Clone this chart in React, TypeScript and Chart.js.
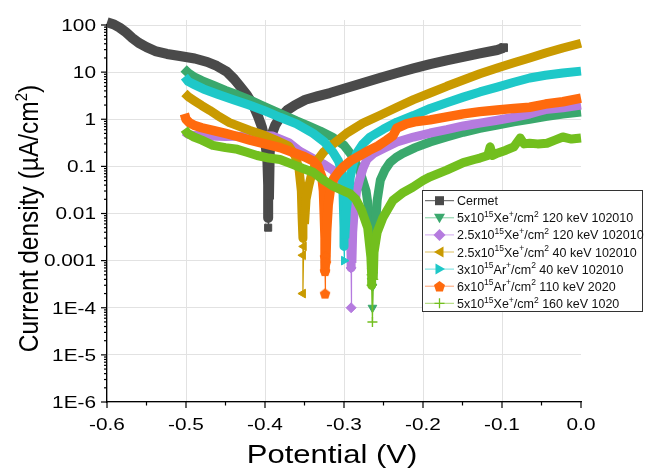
import React, { useEffect, useRef } from "react";
import { Chart, registerables } from "chart.js";

Chart.register(...registerables);

const FONT = '"Liberation Sans", Arial, Helvetica, sans-serif';

// ---- axis ticks ----
const xTickValues = [-0.6, -0.5, -0.4, -0.3, -0.2, -0.1, 0.0];
const xTickLabels = ["-0.6", "-0.5", "-0.4", "-0.3", "-0.2", "-0.1", "0.0"];
const yTickValues = [1e-6, 1e-5, 1e-4, 1e-3, 1e-2, 1e-1, 1, 10, 100];
const yTickLabels = ["1E-6", "1E-5", "1E-4", "0.001", "0.01", "0.1", "1", "10", "100"];

// ---- series names (^{..} = superscript) ----
const seriesNames = [
  "Cermet",
  "5x10^{15}Xe^{+}/cm^{2} 120 keV 102010",
  "2.5x10^{15}Xe^{+}/cm^{2} 120 keV 102010",
  "2.5x10^{15}Xe^{+}/cm^{2} 40 keV 102010",
  "3x10^{15}Ar^{+}/cm^{2} 40 keV 102010",
  "6x10^{15}Ar^{+}/cm^{2} 110 keV 2020",
  "5x10^{15}Xe^{+}/cm^{2} 160 keV 1020",
];

// ---- data: potential (V) and current density (µA/cm²) ----
const cermetV = [-0.600,-0.592,-0.584,-0.576,-0.568,-0.560,-0.550,-0.539,-0.524,-0.508,-0.489,-0.473,-0.461,-0.448,-0.439,-0.432,-0.423,-0.415,-0.409,-0.404,-0.400,-0.397,-0.396,-0.396,-0.396,-0.396,-0.395,-0.394,-0.391,-0.387,-0.381,-0.372,-0.362,-0.349,-0.333,-0.318,-0.297,-0.276,-0.255,-0.233,-0.212,-0.191,-0.170,-0.149,-0.128,-0.106,-0.098];
const cermetI = [115,104,88,70,53,42,34,28,24.3,22,19.5,16.4,13.5,10.1,7.1,5.1,3.3,2.0,1.17,0.69,0.36,0.137,0.04,0.015,0.008,0.005,0.02,0.2,0.5,0.75,1.1,1.55,2.0,2.6,3.1,3.6,4.6,5.9,7.5,9.6,12,14.8,17.8,21,25,29.5,33];

const xe5x120V = [-0.503,-0.497,-0.490,-0.480,-0.465,-0.450,-0.435,-0.420,-0.405,-0.390,-0.375,-0.360,-0.345,-0.330,-0.315,-0.300,-0.290,-0.280,-0.272,-0.268,-0.266,-0.265,-0.265,-0.265,-0.264,-0.264,-0.263,-0.262,-0.260,-0.258,-0.254,-0.248,-0.242,-0.234,-0.225,-0.210,-0.191,-0.170,-0.149,-0.128,-0.106,-0.085,-0.065,-0.045,-0.023,0.000];
const xe5x120I = [12,9.6,8.0,6.6,5.2,4.1,3.3,2.6,2.0,1.55,1.2,0.92,0.72,0.56,0.42,0.28,0.17,0.08,0.03,0.01,0.004,0.0015,0.0006,0.00037,0.00028,0.0001,0.0005,0.0019,0.006,0.019,0.051,0.085,0.12,0.155,0.19,0.25,0.33,0.42,0.53,0.64,0.75,0.88,1.0,1.14,1.29,1.42];

const xe25x120V = [-0.502,-0.497,-0.490,-0.470,-0.450,-0.430,-0.410,-0.390,-0.370,-0.356,-0.340,-0.325,-0.314,-0.305,-0.298,-0.294,-0.292,-0.291,-0.291,-0.291,-0.290,-0.289,-0.287,-0.284,-0.280,-0.276,-0.271,-0.262,-0.250,-0.233,-0.212,-0.191,-0.170,-0.149,-0.128,-0.106,-0.085,-0.065,-0.055,-0.045,-0.023,0.000];
const xe25x120I = [0.55,0.48,0.45,0.44,0.43,0.44,0.46,0.44,0.32,0.21,0.15,0.11,0.083,0.05,0.025,0.012,0.004,0.0012,0.0007,0.0001,0.0009,0.004,0.012,0.031,0.055,0.09,0.14,0.19,0.24,0.33,0.42,0.51,0.6,0.72,0.83,0.95,1.1,1.29,1.45,1.6,1.75,2.0];

const xe25x40V = [-0.502,-0.497,-0.490,-0.480,-0.470,-0.460,-0.445,-0.430,-0.419,-0.400,-0.385,-0.370,-0.362,-0.357,-0.354,-0.353,-0.352,-0.352,-0.352,-0.351,-0.350,-0.348,-0.345,-0.340,-0.333,-0.326,-0.318,-0.297,-0.276,-0.255,-0.233,-0.212,-0.191,-0.170,-0.149,-0.128,-0.106,-0.085,-0.065,-0.045,-0.023,0.000];
const xe25x40I = [3.6,3.0,2.5,1.95,1.55,1.2,0.85,0.68,0.58,0.45,0.35,0.27,0.17,0.09,0.03,0.008,0.003,0.0013,0.0002,0.002,0.006,0.02,0.036,0.08,0.14,0.2,0.26,0.5,0.83,1.2,1.8,2.6,3.6,5.0,6.8,9.2,12.2,15.8,20,25.5,32.5,41];

const ar3x40V = [-0.502,-0.497,-0.490,-0.478,-0.460,-0.440,-0.420,-0.400,-0.381,-0.360,-0.339,-0.325,-0.314,-0.307,-0.302,-0.301,-0.300,-0.300,-0.300,-0.299,-0.297,-0.294,-0.292,-0.288,-0.284,-0.276,-0.267,-0.250,-0.233,-0.212,-0.191,-0.170,-0.149,-0.128,-0.106,-0.085,-0.065,-0.045,-0.023,0.000];
const ar3x40I = [8.0,6.3,5.5,4.4,3.4,2.6,2.0,1.5,1.1,0.8,0.5,0.33,0.2,0.13,0.07,0.02,0.005,0.002,0.001,0.003,0.012,0.03,0.06,0.12,0.19,0.3,0.42,0.62,0.87,1.2,1.7,2.25,2.95,3.8,4.8,6.1,7.5,8.6,9.6,10.5];

const ar6x110V = [-0.502,-0.500,-0.496,-0.490,-0.480,-0.466,-0.450,-0.435,-0.419,-0.400,-0.381,-0.365,-0.350,-0.339,-0.333,-0.328,-0.326,-0.325,-0.324,-0.324,-0.324,-0.324,-0.323,-0.322,-0.320,-0.317,-0.313,-0.307,-0.300,-0.292,-0.280,-0.268,-0.257,-0.246,-0.238,-0.233,-0.221,-0.208,-0.191,-0.170,-0.149,-0.128,-0.106,-0.085,-0.065,-0.045,-0.023,0.000];
const ar6x110I = [1.3,1.0,0.85,0.75,0.66,0.58,0.5,0.43,0.36,0.3,0.25,0.2,0.16,0.13,0.1,0.06,0.03,0.01,0.003,0.0012,0.0006,0.0002,0.0009,0.004,0.015,0.035,0.055,0.075,0.1,0.13,0.17,0.22,0.27,0.36,0.45,0.65,0.8,0.9,0.97,1.12,1.3,1.45,1.57,1.7,1.8,2.1,2.35,2.8];

const xe5x160V = [-0.502,-0.498,-0.490,-0.480,-0.466,-0.450,-0.435,-0.423,-0.410,-0.395,-0.381,-0.365,-0.352,-0.339,-0.325,-0.314,-0.300,-0.292,-0.285,-0.278,-0.270,-0.266,-0.265,-0.265,-0.264,-0.263,-0.262,-0.258,-0.251,-0.238,-0.225,-0.213,-0.200,-0.191,-0.170,-0.149,-0.135,-0.128,-0.118,-0.115,-0.112,-0.106,-0.095,-0.085,-0.077,-0.072,-0.065,-0.055,-0.043,-0.033,-0.023,-0.012,0.000];
const xe5x160I = [0.62,0.5,0.42,0.36,0.28,0.25,0.23,0.2,0.17,0.15,0.14,0.11,0.09,0.075,0.05,0.038,0.03,0.026,0.02,0.012,0.005,0.0012,0.0005,0.0003,0.00005,0.0004,0.0015,0.004,0.008,0.019,0.028,0.036,0.05,0.06,0.083,0.12,0.14,0.15,0.17,0.26,0.17,0.19,0.22,0.26,0.4,0.3,0.31,0.3,0.31,0.36,0.42,0.38,0.4];

const seriesV = [cermetV, xe5x120V, xe25x120V, xe25x40V, ar3x40V, ar6x110V, xe5x160V];
const seriesI = [cermetI, xe5x120I, xe25x120I, xe25x40I, ar3x40I, ar6x110I, xe5x160I];

// ---- styles ----
const COLORS = ["#4a4a4a", "#3aa86d", "#b57bdf", "#c99a00", "#1ec8c8", "#ff6a0d", "#72bf1e"];
const LEGEND_LINE = ["#555555", "#7fcfa0", "#cfa6ee", "#ddc060", "#70dede", "#ffa070", "#a8d870"];
const MARKERS = ["square", "down", "diamond", "left", "right", "pentagon", "plus"];
const BAND_W = [10, 9, 9, 9, 9, 9.5, 9];
const THIN_BELOW = [0.006, 0.0009, 0.0005, 0.0025, 0.0015, 0.0004, 0.0002];
const MARK_BELOW = [0.006, 0.0008, 0.0008, 0.0025, 0.0015, 0.0013, 0.0006];

function parseRich(s: string): { t: string; sup: boolean }[] {
  const out: { t: string; sup: boolean }[] = [];
  const re = /\^\{([^}]*)\}/g;
  let last = 0;
  let m: RegExpExecArray | null;
  while ((m = re.exec(s))) {
    if (m.index > last) out.push({ t: s.slice(last, m.index), sup: false });
    out.push({ t: m[1], sup: true });
    last = m.index + m[0].length;
  }
  if (last < s.length) out.push({ t: s.slice(last), sup: false });
  return out;
}

function drawStretched(ctx: CanvasRenderingContext2D, text: string, x: number, y: number, sx: number, align: CanvasTextAlign) {
  ctx.save();
  ctx.translate(x, y);
  ctx.scale(sx, 1);
  ctx.textAlign = align;
  ctx.textBaseline = "alphabetic";
  ctx.fillText(text, 0, 0);
  ctx.restore();
}

function drawMarker(ctx: CanvasRenderingContext2D, kind: string, x: number, y: number, color: string) {
  ctx.save();
  ctx.fillStyle = color;
  ctx.strokeStyle = color;
  ctx.beginPath();
  if (kind === "square") {
    ctx.rect(x - 4.5, y - 4.5, 9, 9);
    ctx.fill();
  } else if (kind === "down") {
    ctx.moveTo(x - 5.5, y - 4);
    ctx.lineTo(x + 5.5, y - 4);
    ctx.lineTo(x, y + 5.5);
    ctx.closePath();
    ctx.fill();
  } else if (kind === "diamond") {
    ctx.moveTo(x, y - 6);
    ctx.lineTo(x + 6, y);
    ctx.lineTo(x, y + 6);
    ctx.lineTo(x - 6, y);
    ctx.closePath();
    ctx.fill();
  } else if (kind === "left") {
    ctx.moveTo(x - 5.5, y);
    ctx.lineTo(x + 4, y - 5.5);
    ctx.lineTo(x + 4, y + 5.5);
    ctx.closePath();
    ctx.fill();
  } else if (kind === "right") {
    ctx.moveTo(x + 5.5, y);
    ctx.lineTo(x - 4, y - 5.5);
    ctx.lineTo(x - 4, y + 5.5);
    ctx.closePath();
    ctx.fill();
  } else if (kind === "pentagon") {
    for (let k = 0; k < 5; k++) {
      const a = -Math.PI / 2 + (k * 2 * Math.PI) / 5;
      const px = x + 5.8 * Math.cos(a);
      const py = y + 0.5 + 5.8 * Math.sin(a);
      if (k) ctx.lineTo(px, py);
      else ctx.moveTo(px, py);
    }
    ctx.closePath();
    ctx.fill();
  } else if (kind === "plus") {
    ctx.lineWidth = 1.3;
    ctx.moveTo(x - 5, y);
    ctx.lineTo(x + 5, y);
    ctx.moveTo(x, y - 5);
    ctx.lineTo(x, y + 5);
    ctx.stroke();
  }
  ctx.restore();
}

const decorPlugin = {
  id: "decor",
  afterDraw(chart: any) {
    const { ctx, chartArea, scales } = chart;
    const xa = scales.x;
    const ya = scales.y;
    const L = chartArea.left;
    const B = chartArea.bottom;
    const T = chartArea.top;
    ctx.save();

    // vertical grid extension above the top
    ctx.strokeStyle = "#e2e2e2";
    ctx.lineWidth = 1;
    for (let i = 1; i < xTickValues.length - 1; i++) {
      const x = Math.round(xa.getPixelForValue(xTickValues[i])) + 0.5;
      ctx.beginPath();
      ctx.moveTo(x, T - 5);
      ctx.lineTo(x, T);
      ctx.stroke();
    }

    // tick marks
    ctx.strokeStyle = "#000";
    ctx.lineWidth = 1.2;
    const seg = (x1: number, y1: number, x2: number, y2: number) => {
      ctx.beginPath();
      ctx.moveTo(x1, y1);
      ctx.lineTo(x2, y2);
      ctx.stroke();
    };
    for (let e = -6; e <= 2; e++) {
      const y = ya.getPixelForValue(Math.pow(10, e));
      seg(L - 6, y, L, y);
      if (e < 2) {
        for (let m = 2; m <= 9; m++) {
          const yy = ya.getPixelForValue(m * Math.pow(10, e));
          seg(L - 3, yy, L, yy);
        }
      }
    }
    for (let k = 0; k <= 12; k++) {
      const v = -0.6 + 0.05 * k;
      const x = xa.getPixelForValue(v);
      seg(x, B, x, B + (k % 2 === 0 ? 6 : 3.5));
    }

    // tick labels
    ctx.fillStyle = "#000";
    ctx.font = `16px ${FONT}`;
    yTickValues.forEach((v, i) => {
      const y = ya.getPixelForValue(v);
      drawStretched(ctx, yTickLabels[i], 96, y + 5.8, 1.3, "right");
    });
    xTickValues.forEach((v, i) => {
      const x = xa.getPixelForValue(v);
      drawStretched(ctx, xTickLabels[i], x, 430, 1.3, "center");
    });

    // x title
    ctx.font = `25px ${FONT}`;
    drawStretched(ctx, "Potential (V)", 332, 463, 1.24, "center");

    // y title (rotated, with superscript)
    {
      const parts = [
        { t: "Current density (µA/cm", sup: false },
        { t: "2", sup: true },
        { t: ")", sup: false },
      ];
      const mainF = `24.5px ${FONT}`;
      const supF = `15px ${FONT}`;
      let total = 0;
      const widths = parts.map((p) => {
        ctx.font = p.sup ? supF : mainF;
        const w = ctx.measureText(p.t).width;
        total += w;
        return w;
      });
      ctx.save();
      ctx.translate(38, 218.5);
      ctx.rotate(-Math.PI / 2);
      ctx.scale(1, 1.15);
      ctx.textAlign = "left";
      ctx.textBaseline = "alphabetic";
      let cx = -total / 2;
      parts.forEach((p, i) => {
        ctx.font = p.sup ? supF : mainF;
        ctx.fillText(p.t, cx, p.sup ? -9.5 : 0);
        cx += widths[i];
      });
      ctx.restore();
    }

    // legend
    const lx = 422.5, ly = 190.5, lw = 220, lh = 121;
    ctx.fillStyle = "#fff";
    ctx.fillRect(lx, ly, lw, lh);
    ctx.strokeStyle = "#333";
    ctx.lineWidth = 1;
    ctx.strokeRect(lx, ly, lw, lh);
    seriesNames.forEach((name, i) => {
      const cy = 200.7 + 17.1 * i;
      ctx.strokeStyle = LEGEND_LINE[i];
      ctx.lineWidth = 1;
      ctx.beginPath();
      ctx.moveTo(425, cy);
      ctx.lineTo(454, cy);
      ctx.stroke();
      drawMarker(ctx, MARKERS[i], 439.5, cy, COLORS[i]);
      let tx = 457;
      ctx.fillStyle = "#111";
      ctx.textAlign = "left";
      ctx.textBaseline = "alphabetic";
      parseRich(name).forEach((p) => {
        ctx.font = p.sup ? `8.5px ${FONT}` : `12.5px ${FONT}`;
        ctx.fillText(p.t, tx, cy + (p.sup ? -0.8 : 4.5));
        tx += ctx.measureText(p.t).width;
      });
    });

    ctx.restore();
  },
};

export default function App() {
  const ref = useRef<HTMLCanvasElement>(null);
  useEffect(() => {
    const canvas = ref.current;
    if (!canvas) return;

    const pent = document.createElement("canvas");
    pent.width = 12;
    pent.height = 12;
    const pc = pent.getContext("2d")!;
    pc.fillStyle = COLORS[5];
    pc.beginPath();
    for (let k = 0; k < 5; k++) {
      const a = -Math.PI / 2 + (k * 2 * Math.PI) / 5;
      const px = 6 + 5.6 * Math.cos(a);
      const py = 6.4 + 5.6 * Math.sin(a);
      if (k) pc.lineTo(px, py);
      else pc.moveTo(px, py);
    }
    pc.closePath();
    pc.fill();

    const styleFor = (k: string): any => {
      if (k === "square") return { s: "rect", r: 0 };
      if (k === "down") return { s: "triangle", r: 180 };
      if (k === "diamond") return { s: "rectRot", r: 0 };
      if (k === "left") return { s: "triangle", r: 270 };
      if (k === "right") return { s: "triangle", r: 90 };
      if (k === "pentagon") return { s: pent, r: 0 };
      return { s: "cross", r: 0 };
    };

    const datasets = seriesNames.map((name, idx) => {
      const vs = seriesV[idx];
      const is = seriesI[idx];
      const st = styleFor(MARKERS[idx]);
      const last = vs.length - 1;
      return {
        label: name.replace(/\^\{([^}]*)\}/g, "$1"),
        data: vs.map((x, k) => ({ x, y: is[k] })),
        borderColor: COLORS[idx],
        backgroundColor: COLORS[idx],
        borderWidth: BAND_W[idx],
        borderJoinStyle: "round",
        borderCapStyle: "butt",
        pointStyle: st.s,
        pointRotation: st.r,
        pointRadius: (c: any) => {
          if (!c.raw) return 0;
          if (idx === 0 && c.dataIndex === last) return 5.5;
          return c.raw.y < MARK_BELOW[idx] ? 5 : 0;
        },
        pointBorderWidth: MARKERS[idx] === "plus" ? 1.4 : 1,
        pointBorderColor: COLORS[idx],
        pointBackgroundColor: COLORS[idx],
        segment: {
          borderWidth: (c: any) =>
            Math.min(c.p0.parsed.y, c.p1.parsed.y) < THIN_BELOW[idx] ? 1.2 : BAND_W[idx],
        },
        tension: 0,
        order: 10 - idx,
        clip: { left: 6, top: 8, right: 6, bottom: 0 },
      };
    });

    const gridOpts = { color: "#e2e2e2", lineWidth: 1, drawTicks: false };
    const borderOpts = { display: true, color: "#000", width: 1.3 };

    const chart = new Chart(canvas, {
      type: "line",
      data: { datasets } as any,
      options: {
        responsive: false,
        animation: false,
        devicePixelRatio: 1,
        events: [],
        layout: { padding: { top: 25, right: 67, left: 0, bottom: 0 } },
        plugins: {
          legend: { display: false },
          tooltip: { enabled: false },
          title: { display: false },
        },
        scales: {
          x: {
            type: "linear",
            min: -0.6,
            max: 0,
            afterBuildTicks: (s: any) => {
              s.ticks = xTickValues.slice(0, 6).map((v) => ({ value: v }));
            },
            afterFit: (s: any) => {
              s.height = 67;
            },
            grid: gridOpts,
            border: borderOpts,
            ticks: { display: false },
          },
          y: {
            type: "logarithmic",
            min: 1e-6,
            max: 100,
            afterBuildTicks: (s: any) => {
              s.ticks = yTickValues.map((v) => ({ value: v }));
            },
            afterFit: (s: any) => {
              s.width = 107;
            },
            grid: gridOpts,
            border: borderOpts,
            ticks: { display: false },
          },
        },
      } as any,
      plugins: [decorPlugin],
    });
    return () => chart.destroy();
  }, []);

  return (
    <div style={{ position: "fixed", left: 0, top: 0, width: 648, height: 469, background: "#fff" }}>
      <canvas ref={ref} width={648} height={469} style={{ display: "block", width: 648, height: 469 }} />
    </div>
  );
}
